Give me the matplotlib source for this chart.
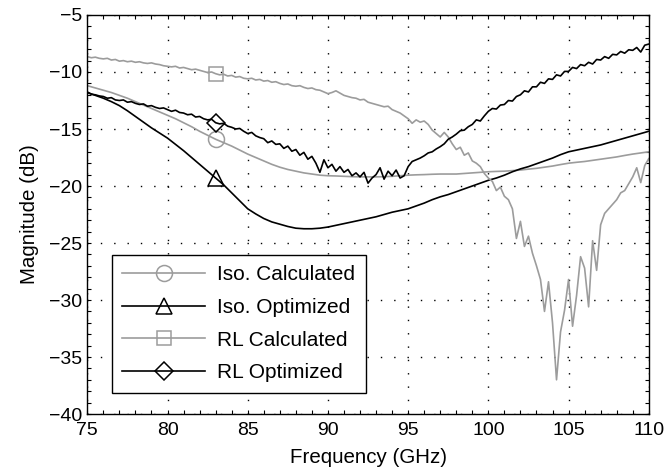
import numpy as np
import matplotlib
matplotlib.use("Agg")
import matplotlib.pyplot as plt
from matplotlib.ticker import MultipleLocator

plt.rcParams['font.family'] = ['Liberation Sans', 'DejaVu Sans']

# frequency grids (GHz)
iso_freq = np.arange(75, 110.001, 0.5)
rl_freq = np.arange(75, 110.001, 0.25)

# Iso. Calculated (dB), 0.5 GHz steps
iso_calc = [-11.2, -11.4, -11.6, -11.8, -12.05, -12.3, -12.6, -12.9, -13.2, -13.5,
            -13.8, -14.1, -14.45, -14.8, -15.2, -15.55, -15.9, -16.2, -16.5, -16.85,
            -17.2, -17.5, -17.8, -18.1, -18.35, -18.55, -18.7, -18.85, -18.95, -19.05,
            -19.1, -19.12, -19.15, -19.18, -19.2, -19.2, -19.2, -19.18, -19.15, -19.1,
            -19.05, -19.02, -19.0, -18.97, -18.95, -18.95, -18.95, -18.9, -18.85, -18.8,
            -18.75, -18.72, -18.7, -18.65, -18.6, -18.52, -18.45, -18.35, -18.25, -18.12,
            -18.0, -17.92, -17.85, -17.75, -17.65, -17.55, -17.45, -17.32, -17.2, -17.1,
            -17.0]

# Iso. Optimized (dB), 0.5 GHz steps
iso_opt = [-11.8, -12.05, -12.3, -12.6, -12.95, -13.4, -13.9, -14.4, -14.9, -15.35,
           -15.8, -16.35, -16.9, -17.5, -18.1, -18.7, -19.3, -19.9, -20.6, -21.3,
           -22.0, -22.45, -22.85, -23.15, -23.35, -23.55, -23.7, -23.75, -23.75, -23.7,
           -23.6, -23.45, -23.3, -23.15, -23.0, -22.85, -22.7, -22.5, -22.3, -22.15,
           -22.0, -21.75, -21.5, -21.2, -20.95, -20.75, -20.5, -20.25, -20.0, -19.75,
           -19.5, -19.3, -19.05, -18.75, -18.5, -18.3, -18.05, -17.8, -17.55, -17.25,
           -17.0, -16.85, -16.7, -16.55, -16.4, -16.2, -16.0, -15.8, -15.6, -15.4,
           -15.2]

# RL Calculated (dB), 0.25 GHz steps
rl_calc = [-8.65, -8.75, -8.70, -8.80, -8.85, -8.80, -8.95, -8.90,
           -9.05, -9.00, -9.10, -9.05, -9.15, -9.10, -9.20, -9.25,
           -9.20, -9.30, -9.35, -9.45, -9.50, -9.55, -9.50, -9.65,
           -9.60, -9.70, -9.80, -9.75, -9.85, -9.95, -10.05, -10.00,
           -10.15, -10.25, -10.20, -10.35, -10.30, -10.45, -10.40, -10.55,
           -10.60, -10.55, -10.70, -10.65, -10.80, -10.75, -10.90, -10.85,
           -11.00, -11.10, -11.05, -11.20, -11.25, -11.20, -11.35, -11.45,
           -11.40, -11.55, -11.60, -11.75, -11.90, -11.80, -11.65, -11.85,
           -12.05, -12.15, -12.25, -12.30, -12.45, -12.40, -12.65, -12.75,
           -12.85, -12.95, -13.05, -13.00, -13.30, -13.45, -13.60, -13.85,
           -14.10, -14.50, -14.20, -14.40, -14.30, -14.60, -15.10, -15.40,
           -15.70, -15.30, -15.70, -16.30, -16.80, -16.60, -17.30, -17.10,
           -17.80, -18.00, -18.30, -18.90, -19.30, -19.60, -20.40, -20.10,
           -20.90, -21.20, -22.00, -24.60, -23.10, -25.30, -24.40, -25.90,
           -27.00, -28.20, -31.00, -28.40, -32.00, -37.00, -32.80, -30.90,
           -28.20, -32.30, -29.60, -26.20, -27.20, -30.60, -24.80, -27.40,
           -23.40, -22.40, -22.00, -21.60, -21.20, -20.60, -20.40, -19.80,
           -19.20, -18.40, -19.70, -18.20, -17.60]

# RL Optimized (dB), 0.25 GHz steps
rl_opt = [-11.75, -11.95, -12.00, -12.10, -12.15, -12.30, -12.25, -12.45,
          -12.50, -12.45, -12.65, -12.60, -12.75, -12.85, -12.80, -13.00,
          -12.95, -13.10, -13.20, -13.15, -13.30, -13.45, -13.35, -13.55,
          -13.60, -13.75, -13.70, -13.95, -13.90, -14.10, -14.20, -14.15,
          -14.45, -14.55, -14.50, -14.75, -14.85, -15.00, -14.95, -15.20,
          -15.40, -15.30, -15.60, -15.75, -15.85, -16.20, -16.05, -16.35,
          -16.30, -16.70, -16.50, -16.95, -16.80, -17.30, -17.05, -17.65,
          -17.40, -18.00, -18.80, -17.70, -18.40, -18.10, -18.70, -18.30,
          -18.80, -18.55, -19.10, -18.85, -19.20, -18.80, -19.75, -19.30,
          -19.00, -18.40, -19.40, -18.70, -19.10, -18.60, -19.30, -19.10,
          -18.30, -17.85, -17.70, -17.55, -17.35, -17.10, -17.00, -16.75,
          -16.55, -16.30, -15.90, -15.70, -15.45, -15.15, -15.10, -14.80,
          -14.60, -14.20, -14.30, -13.85, -13.45, -13.20, -13.25, -12.90,
          -12.85, -12.50, -12.55, -12.15, -12.00, -11.65, -11.75, -11.30,
          -11.30, -10.90, -11.00, -10.60, -10.65, -10.25, -10.35, -9.95,
          -9.95, -9.60, -9.70, -9.35, -9.45, -9.15, -9.30, -8.90,
          -8.95, -8.65, -8.80, -8.45, -8.50, -8.20, -8.35, -8.05,
          -8.10, -7.85, -8.25, -7.65, -7.55]

MARK_AT = 83  # single marker position (GHz)
GRAY = '#9c9c9c'

fig = plt.figure(figsize=(6.68, 4.73), dpi=100)
ax = fig.add_axes([0.1307, 0.1247, 0.8405, 0.8436])

i_iso = [int(np.argmin(np.abs(iso_freq - MARK_AT)))]
i_rl = [int(np.argmin(np.abs(rl_freq - MARK_AT)))]

ax.plot(iso_freq, iso_calc, color=GRAY, lw=1.2, marker='o', ms=11.5,
        mfc='none', mec=GRAY, mew=1.1, markevery=i_iso, label='Iso. Calculated')
ax.plot(iso_freq, iso_opt, color='black', lw=1.2, marker='^', ms=11.5,
        mfc='none', mec='black', mew=1.1, markevery=i_iso, label='Iso. Optimized')
ax.plot(rl_freq, rl_calc, color=GRAY, lw=1.2, marker='s', ms=9.5,
        mfc='none', mec=GRAY, mew=1.1, markevery=i_rl, label='RL Calculated')
ax.plot(rl_freq, rl_opt, color='black', lw=1.2, marker='D', ms=9,
        mfc='none', mec='black', mew=1.1, markevery=i_rl, label='RL Optimized')

ax.set_xlim(75, 110)
ax.set_ylim(-40, -5)
ax.xaxis.set_major_locator(MultipleLocator(5))
ax.yaxis.set_major_locator(MultipleLocator(5))
ax.xaxis.set_minor_locator(MultipleLocator(1))
ax.yaxis.set_minor_locator(MultipleLocator(1))
ax.tick_params(which='both', direction='in', top=True, right=True,
               length=3, width=0.8, labelsize=14)
ax.tick_params(axis='x', pad=5.5)
ax.tick_params(axis='y', pad=4)
ax.grid(True, which='major', color='black', linestyle=(0, (1, 8.6)), lw=1.0)
for s in ax.spines.values():
    s.set_linewidth(1.0)

ax.set_xlabel('Frequency (GHz)', fontsize=14.8, labelpad=7)
ax.set_ylabel('Magnitude (dB)', fontsize=14.8, labelpad=7)

leg = ax.legend(loc='lower left', bbox_to_anchor=(0.044, 0.053), borderaxespad=0,
                fontsize=15, numpoints=1, handlelength=3.95, handletextpad=0.6,
                fancybox=False, edgecolor='black', framealpha=1,
                labelspacing=0.66, borderpad=0.5)
leg.get_frame().set_linewidth(1.0)

fig.savefig('out.png', dpi=100)
